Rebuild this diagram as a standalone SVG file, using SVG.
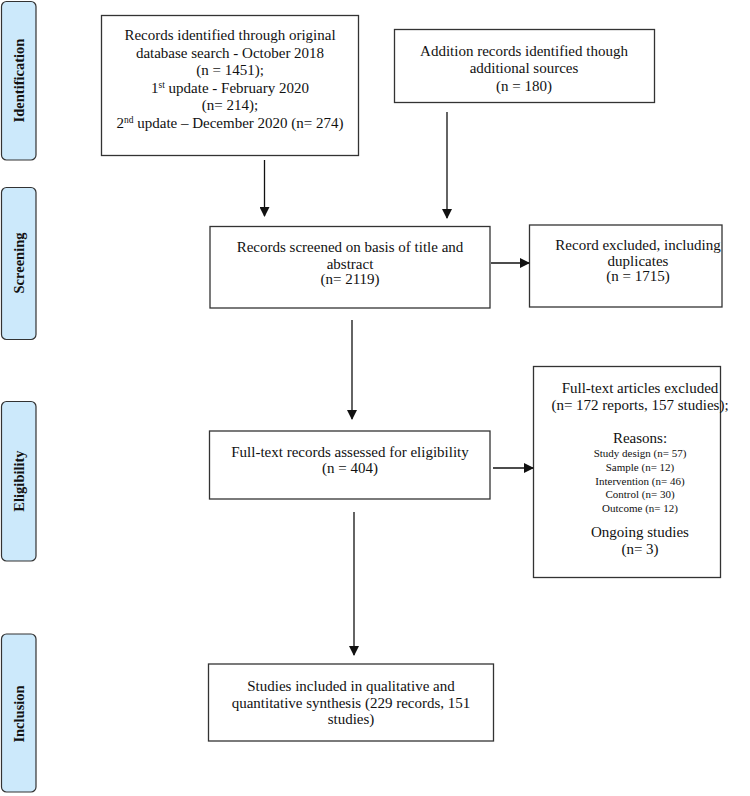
<svg xmlns="http://www.w3.org/2000/svg" width="750" height="796" viewBox="0 0 750 796">
<style>
.bar{fill:#cce9fb;stroke:#333;stroke-width:1.2}
.box{fill:#fff;stroke:#333;stroke-width:1.3}
.t{font-family:"Liberation Serif","Times New Roman",serif;font-size:15px;fill:#111;text-anchor:middle}
.s{font-size:11px}
.lab{font-family:"Liberation Serif","Times New Roman",serif;font-size:14.5px;font-weight:bold;fill:#111;text-anchor:middle}
.ln{stroke:#111;stroke-width:1.3;fill:none}
</style>
<defs>
<marker id="ah" markerWidth="10" markerHeight="10" refX="9" refY="5" orient="auto" markerUnits="userSpaceOnUse">
<path d="M0,0 L10,5 L0,10 Z" fill="#111"/>
</marker>
</defs>
<g id="stage-identification"><rect class="bar" x="1.5" y="1.5" width="34.5" height="158.5" rx="5"/><text class="lab" transform="translate(24,80.5) rotate(-90)">Identification</text></g>
<g id="stage-screening"><rect class="bar" x="1.5" y="187.5" width="34.5" height="152" rx="5"/><text class="lab" transform="translate(24,263) rotate(-90)">Screening</text></g>
<g id="stage-eligibility"><rect class="bar" x="1.5" y="401.5" width="34.5" height="159.5" rx="5"/><text class="lab" transform="translate(24,481) rotate(-90)">Eligibility</text></g>
<g id="stage-inclusion"><rect class="bar" x="1.5" y="634" width="34.5" height="158" rx="5"/><text class="lab" transform="translate(24,714) rotate(-90)">Inclusion</text></g>

<g id="n-database"><rect class="box" x="101.5" y="15.5" width="257" height="140"/>
<text class="t" x="230" y="40">Records identified through original</text>
<text class="t" x="230" y="57.5">database search - October 2018</text>
<text class="t" x="230" y="75">(n = 1451);</text>
<text class="t" x="230" y="92.5">1<tspan font-size="9.5" dy="-5">st</tspan><tspan dy="5"> update - February 2020</tspan></text>
<text class="t" x="230" y="110">(n= 214);</text>
<text class="t" x="230" y="127.5">2<tspan font-size="9.5" dy="-5">nd</tspan><tspan dy="5"> update – December 2020 (n= 274)</tspan></text>
</g>
<g id="n-additional"><rect class="box" x="394.5" y="29.5" width="260" height="73"/>
<text class="t" x="524" y="56">Addition records identified though</text>
<text class="t" x="524" y="73">additional sources</text>
<text class="t" x="524" y="90.5">(n = 180)</text>
</g>
<g id="n-screened"><rect class="box" x="210" y="226.5" width="280" height="81.5"/>
<text class="t" x="350" y="252">Records screened on basis of title and</text>
<text class="t" x="350" y="268.5">abstract</text>
<text class="t" x="350" y="284">(n= 2119)</text>
</g>
<g id="n-excluded"><rect class="box" x="529.5" y="225" width="192.5" height="82"/>
<text class="t" x="638" y="250">Record excluded, including</text>
<text class="t" x="638" y="265.5">duplicates</text>
<text class="t" x="638" y="280.5">(n = 1715)</text>
</g>
<g id="n-fulltext"><rect class="box" x="209.5" y="431" width="280.5" height="68"/>
<text class="t" x="350" y="457">Full-text records assessed for eligibility</text>
<text class="t" x="350" y="473">(n = 404)</text>
</g>
<g id="n-ftexcluded"><rect class="box" x="533.5" y="366.5" width="187" height="211"/>
<text class="t" x="640" y="393">Full-text articles excluded</text>
<text class="t" x="640" y="410">(n= 172 reports, 157 studies);</text>
<text class="t" x="640" y="443">Reasons:</text>
<text class="t s" x="640" y="457">Study design (n= 57)</text>
<text class="t s" x="640" y="471">Sample (n= 12)</text>
<text class="t s" x="640" y="485">Intervention (n= 46)</text>
<text class="t s" x="640" y="498">Control (n= 30)</text>
<text class="t s" x="640" y="512">Outcome (n= 12)</text>
<text class="t" x="640" y="537">Ongoing studies</text>
<text class="t" x="640" y="554">(n= 3)</text>
</g>
<g id="n-included"><rect class="box" x="208.5" y="664" width="285" height="77"/>
<text class="t" x="351" y="691">Studies included in qualitative and</text>
<text class="t" x="351" y="708">quantitative synthesis (229 records, 151</text>
<text class="t" x="351" y="724">studies)</text>
</g>

<g id="connectors">
<line class="ln" x1="264.5" y1="160" x2="264.5" y2="216" marker-end="url(#ah)"/>
<line class="ln" x1="447" y1="112" x2="447" y2="218" marker-end="url(#ah)"/>
<line class="ln" x1="491" y1="263" x2="529" y2="263" marker-end="url(#ah)"/>
<line class="ln" x1="352" y1="320" x2="352" y2="419" marker-end="url(#ah)"/>
<line class="ln" x1="493" y1="468" x2="533" y2="468" marker-end="url(#ah)"/>
<line class="ln" x1="354" y1="512" x2="354" y2="655" marker-end="url(#ah)"/>
</g>
</svg>
